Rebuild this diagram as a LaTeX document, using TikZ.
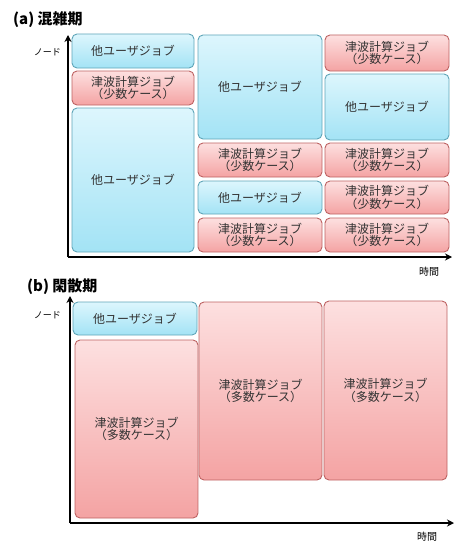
\documentclass[tikz,border=0pt]{standalone}
\usepackage{fontspec}
\setmainfont{Noto Sans CJK JP}
\usetikzlibrary{arrows.meta}
\definecolor{cyantop}{HTML}{DDF6FD}
\definecolor{cyanbot}{HTML}{A3E3F5}
\definecolor{cyanline}{HTML}{5FA5B8}
\definecolor{redtop}{HTML}{FDE0E0}
\definecolor{redbot}{HTML}{F4A3A3}
\definecolor{redline}{HTML}{BD6262}
\definecolor{jobtext}{HTML}{333333}
\tikzset{
  jobbase/.style={rectangle, rounded corners=5pt, line width=0.9pt, inner sep=0pt, outer sep=0pt,
    align=center, text=jobtext, font=\fontsize{12}{12.5}\selectfont},
  cyanjob/.style={jobbase, draw=cyanline, top color=cyantop, bottom color=cyanbot},
  redjob/.style={jobbase, draw=redline, top color=redtop, bottom color=redbot},
  axisline/.style={line width=1.8pt, -{Stealth[length=7pt,width=7pt]}},
  titletext/.style={anchor=west, inner sep=0pt, font=\fontsize{15}{15}\selectfont\bfseries},
  axislabel/.style={inner sep=0pt, font=\fontsize{9}{9}\selectfont}
}
\newcommand{\jobbox}[7]{\node[#2, minimum width={#5-#3}, minimum height={#6-#4}] (#1) at ({(#3+#5)/2},{-(#4+#6)/2}) {#7};}
\begin{document}
\begin{tikzpicture}[x=1pt,y=1pt]
\useasboundingbox (0,0) rectangle (454,-543);
% ---------- (a) ----------
\node[titletext] (ta) at (13,-20) {(a) 混雑期};
\jobbox{a1}{cyanjob}{72}{34}{194}{68}{他ユーザジョブ}
\jobbox{a2}{redjob}{72}{71}{194}{105}{津波計算ジョブ\\（少数ケース）}
\jobbox{a3}{cyanjob}{72}{108}{194}{252}{他ユーザジョブ}
\jobbox{b1}{cyanjob}{198}{35}{322}{139}{他ユーザジョブ}
\jobbox{b2}{redjob}{198}{143}{322}{177}{津波計算ジョブ\\（少数ケース）}
\jobbox{b3}{cyanjob}{198}{181}{322}{214}{他ユーザジョブ}
\jobbox{b4}{redjob}{198}{218}{322}{252}{津波計算ジョブ\\（少数ケース）}
\jobbox{c1}{redjob}{325}{35}{449}{71}{津波計算ジョブ\\（少数ケース）}
\jobbox{c2}{cyanjob}{325}{74}{449}{140}{他ユーザジョブ}
\jobbox{c3}{redjob}{325}{143}{449}{177}{津波計算ジョブ\\（少数ケース）}
\jobbox{c4}{redjob}{325}{181}{449}{214}{津波計算ジョブ\\（少数ケース）}
\jobbox{c5}{redjob}{325}{218}{449}{252}{津波計算ジョブ\\（少数ケース）}
\coordinate (aorig) at (68,-257);
\coordinate (ayend) at (68,-35);
\coordinate (axend) at (452,-257);
\draw[axisline] (aorig) -- (ayend);
\draw[axisline] (aorig) -- (axend);
\node[axislabel, anchor=east] (ay) at (61,-52) {ノード};
\node[axislabel, font=\fontsize{10}{10}\selectfont] (ax) at (429,-272) {時間};
% ---------- (b) ----------
\node[titletext] (tb) at (27,-287) {(b) 閑散期};
\jobbox{d1}{cyanjob}{73}{302}{197}{335}{他ユーザジョブ}
\jobbox{d2}{redjob}{75}{340}{198}{518}{津波計算ジョブ\\（多数ケース）}
\jobbox{e1}{redjob}{199}{302}{322}{480}{津波計算ジョブ\\（多数ケース）}
\jobbox{f1}{redjob}{324}{301}{447}{480}{津波計算ジョブ\\（多数ケース）}
\coordinate (borig) at (70,-523);
\coordinate (byend) at (70,-296);
\coordinate (bxend) at (454,-523);
\draw[axisline] (borig) -- (byend);
\draw[axisline] (borig) -- (bxend);
\node[axislabel, anchor=east] (by) at (61,-315) {ノード};
\node[axislabel, font=\fontsize{10}{10}\selectfont] (bx) at (427,-537) {時間};
\end{tikzpicture}
\end{document}
